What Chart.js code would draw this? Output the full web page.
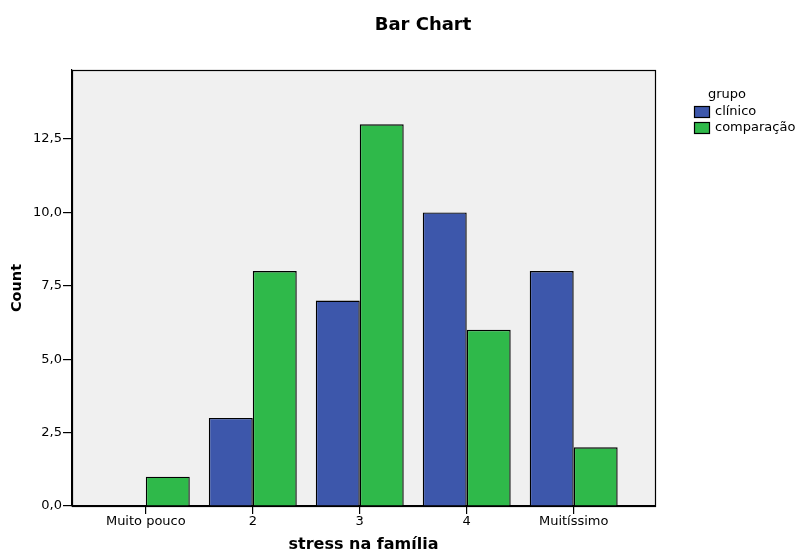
<!DOCTYPE html>
<html>
<head>
<meta charset="utf-8">
<script src="https://cdn.jsdelivr.net/npm/chart.js@4/dist/chart.umd.min.js"></script>
<style>
  html, body { margin: 0; padding: 0; background: #fff; }
  #wrap { width: 797px; height: 554px; }
</style>
</head>
<body>
<div id="wrap"><canvas id="chart" width="797" height="554"></canvas></div>
<script>
const categories = ["Muito pouco", "2", "3", "4", "Muitíssimo"]
const clinico = [0, 3, 7, 10, 8]
const comparacao = [1, 8, 13, 6, 2]
const yTicks = [0, 2.5, 5, 7.5, 10, 12.5]
const seriesNames = ["clínico", "comparação"]
const colors = ["#3d57ab", "#2fb94a"]

const FONT = "'DejaVu Sans', Verdana, sans-serif"

// plot background, frame, title and legend
const decor = {
  id: "decor",
  beforeDraw(chart) {
    const { ctx, chartArea: a } = chart
    ctx.save()
    ctx.fillStyle = "#f0f0f0"
    ctx.fillRect(a.left, a.top, a.right - a.left, a.bottom - a.top)
    ctx.restore()
  },
  afterDraw(chart) {
    const { ctx, chartArea: a } = chart
    ctx.save()
    ctx.strokeStyle = "#000"
    ctx.lineWidth = 1.2
    ctx.strokeRect(Math.round(a.left) + 0.5, Math.round(a.top) + 0.5, Math.round(a.right - a.left), Math.round(a.bottom - a.top))

    ctx.fillStyle = "#000"
    ctx.font = "bold 18px " + FONT
    ctx.textAlign = "center"
    ctx.textBaseline = "middle"
    ctx.fillText("Bar Chart", 423, 25)

    ctx.font = "13px " + FONT
    ctx.fillText("grupo", 727, 95)
    ctx.textAlign = "left"
    chart.data.datasets.forEach((ds, i) => {
      const y = 106 + i * 16
      ctx.fillStyle = ds.backgroundColor
      ctx.fillRect(694, y, 16, 12)
      ctx.strokeStyle = "#000"
      ctx.lineWidth = 1.2
      ctx.strokeRect(694.5, y + 0.5, 15, 11)
      ctx.fillStyle = "#000"
      ctx.fillText(ds.label, 715, y + 6)
    })
    ctx.restore()
  }
}

new Chart(document.getElementById("chart"), {
  type: "bar",
  data: {
    datasets: [
      { label: seriesNames[0], data: clinico.map((v, i) => ({ x: i, y: v })), backgroundColor: colors[0] },
      { label: seriesNames[1], data: comparacao.map((v, i) => ({ x: i, y: v })), backgroundColor: colors[1] }
    ]
  },
  options: {
    responsive: false,
    animation: false,
    layout: { padding: { top: 70, right: 142, bottom: 0, left: 4 } },
    datasets: {
      bar: {
        borderColor: "#000",
        borderWidth: c => (c.raw && c.raw.y === 0 ? 0 : 1.4),
        categoryPercentage: 0.822,
        barPercentage: 1
      }
    },
    plugins: { legend: { display: false }, title: { display: false }, tooltip: { enabled: false } },
    scales: {
      x: {
        type: "linear",
        min: -0.69,
        max: 4.76,
        offset: false,
        afterBuildTicks: s => { s.ticks = categories.map((c, i) => ({ value: i })) },
        afterFit: s => { s.height = 48 },
        grid: { display: true, offset: false, drawOnChartArea: false, drawTicks: true, tickLength: 8, color: "#000", lineWidth: 1.2 },
        border: { display: true, color: "#000", width: 1.2 },
        ticks: {
          autoSkip: false, maxRotation: 0, padding: 0, color: "#000",
          font: { family: FONT, size: 13 },
          callback: v => categories[v] ?? ""
        },
        title: { display: true, text: "stress na família", color: "#000", font: { family: FONT, size: 16, weight: "bold" }, padding: { top: 2, bottom: 0 } }
      },
      y: {
        min: 0,
        max: 14.85,
        afterBuildTicks: s => { s.ticks = yTicks.map(v => ({ value: v })) },
        afterFit: s => { s.width = 68 },
        grid: { display: true, drawOnChartArea: false, drawTicks: true, tickLength: 9, color: "#000", lineWidth: 1.2 },
        border: { display: true, color: "#000", width: 1.2 },
        ticks: {
          padding: 1, color: "#000",
          font: { family: FONT, size: 13 },
          callback: v => v.toFixed(1).replace(".", ",")
        },
        title: { display: true, text: "Count", color: "#000", font: { family: FONT, size: 14.5, weight: "bold" }, padding: { top: 5, bottom: 0 } }
      }
    }
  },
  plugins: [decor]
})
</script>
</body>
</html>
